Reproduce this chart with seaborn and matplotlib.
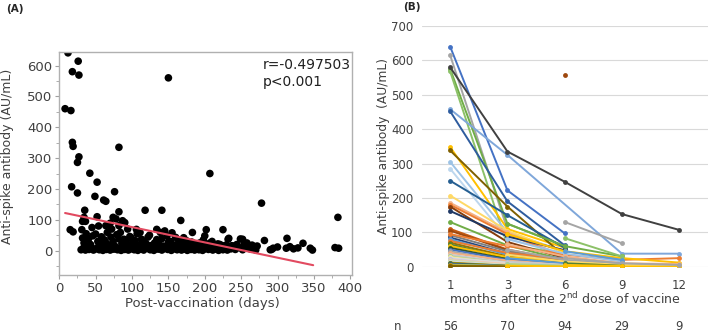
import numpy as np
import pandas as pd
import matplotlib
matplotlib.use("Agg")
import matplotlib.pyplot as plt
import seaborn as sns
from matplotlib.ticker import MultipleLocator

sns.set_style("ticks")
plt.rcParams['font.family'] = ['DejaVu Sans']

# ---------------- Panel A data ----------------
outlier_days = [12, 26, 18, 27, 150, 8, 16, 18, 19, 82, 27, 25, 42, 207, 52, 17, 76, 25, 49, 61,
                64, 278, 35, 118, 141, 82, 383, 15, 19, 167, 225, 202, 183, 232, 252]
outlier_vals = [641, 614, 580, 569, 560, 460, 454, 351, 338, 335, 304, 286, 251, 250, 222, 207, 191, 187, 176, 164,
                160, 154, 131, 131, 131, 126, 108, 68, 61, 98, 68, 68, 59, 37, 37]

upper_days = [31, 32, 34, 52, 54, 64, 70, 72, 74, 78, 82, 87, 90, 94, 106, 134, 36, 45]
upper_vals = [68, 95, 108, 110, 80, 81, 89, 70, 108, 103, 81, 97, 91, 70, 69, 69, 95, 75]

low_days = [30, 33, 36, 38, 41, 44, 47, 50, 53, 55,
            58, 60, 62, 65, 67, 70, 72, 75, 77, 80,
            83, 85, 88, 90, 93, 95, 98, 100, 103, 106,
            108, 111, 113, 116, 119, 122, 125, 128, 130, 133,
            136, 138, 141, 144, 146, 149, 152, 154, 157, 160,
            162, 165, 168, 170, 173, 176, 178, 181, 184, 186,
            189, 192, 195, 197, 200, 203, 205, 208, 211, 214,
            216, 219, 222, 225, 228, 231, 236, 242, 247, 252,
            258, 263, 270]
low_vals = [3, 8, 2, 12, 4, 9, 2, 6, 11, 3,
            7, 1, 10, 4, 13, 2, 8, 5, 11, 3,
            7, 1, 12, 4, 9, 2, 6, 14, 3, 8,
            1, 10, 5, 2, 12, 7, 3, 9, 1, 14,
            5, 10, 2, 7, 12, 4, 9, 1, 6, 13,
            3, 8, 2, 11, 5, 1, 9, 4, 12, 2,
            7, 3, 10, 1, 6, 13, 4, 8, 2, 10,
            5, 1, 7, 3, 9, 2, 6, 4, 10, 3,
            8, 5, 2]

mid_days = [32, 34, 37, 40, 43, 46, 50, 53, 56, 58,
            62, 64, 66, 69, 71, 74, 76, 79, 82, 84,
            86, 89, 92, 95, 97, 99, 101, 104, 107, 110,
            111, 113, 117, 120, 122, 124, 127, 131, 134, 137,
            139, 141, 143, 145, 148, 150, 153, 155, 158, 160,
            163, 165, 167, 169, 171, 173, 175, 177, 179, 182,
            185, 188, 191, 193, 196, 198, 200, 202, 205, 207,
            210, 213, 216, 218, 221, 224, 229, 233, 237, 240,
            244, 249, 254, 258, 265, 272]
mid_vals = [41, 25, 55, 37, 20, 48, 54, 30, 21, 45,
            35, 26, 59, 18, 44, 30, 16, 52, 38, 59,
            22, 37, 28, 18, 46, 41, 23, 33, 55, 19,
            59, 37, 27, 21, 44, 50, 17, 25, 36, 20,
            59, 39, 15, 64, 48, 28, 30, 58, 18, 43,
            22, 26, 35, 16, 42, 19, 32, 24, 20, 28,
            17, 22, 18, 25, 16, 35, 48, 20, 17, 25,
            30, 16, 15, 22, 20, 16, 18, 40, 16, 15,
            20, 38, 20, 25, 18, 15]

right_days = [282, 313, 335, 269, 294, 292, 312, 317, 345, 348, 379, 384, 290, 300, 322, 328]
right_vals = [33, 40, 24, 13, 8, 4, 8, 13, 8, 2, 10, 8, 3, 12, 6, 9]

fit_days = [8, 349]
fit_vals = [122, -47]
r_text = "r=-0.497503"
p_text = "p<0.001"

# ---------------- Panel B data ----------------
b_months = [1, 3, 6, 9, 12]
b_n = [56, 70, 94, 29, 9]
N = None
b_m1 = [640, 615, 575, 568, 458, 452, 348, 338, 305, 285,
        250, 207, 186, 180, 175, 162, 130, 110, 105, 92,
        85, 80, 75, 70, 65, 60, 55, 50, 45, 40,
        35, 30, 28, 25, 22, 20, 18, 15, 12, 10,
        8, 6, 4, 2, 95, N, N, N, N, N,
        N, N, N, N, N, N, N, N, N, N,
        N, N, 580]
b_m3 = [222, 108, 125, 62, 325, 190, 110, 175, 100, 82,
        150, 105, 100, 95, 72, 88, 62, 50, 48, 45,
        38, 35, 40, 30, 25, 28, 22, 20, 15, 18,
        12, 10, 8, 12, 6, 8, 5, 4, 3, 3,
        2, 2, 1, 1, 60, 125, 95, 80, 65, 50,
        35, 25, 15, 8, 3, N, N, N, N, N,
        N, N, 335]
b_m6 = [97, N, 60, 40, N, 62, 55, 30, 45, 35,
        55, 40, 30, 28, 25, 48, 20, 18, 15, 12,
        10, 25, 22, 12, 8, 15, 10, 8, 5, 6,
        5, 4, 3, 6, 2, 4, 2, 2, 1, 1,
        1, 0, 0, 0, 35, 60, 45, 38, 30, 20,
        15, 10, 5, 3, 1, 130, 558, 83, 45, 25,
        10, 5, 247]
b_m9 = [N, N, N, N, 38, N, N, N, N, N,
        N, N, N, N, N, N, N, N, N, N,
        N, N, N, N, N, N, N, N, N, N,
        N, N, N, N, N, N, N, N, N, N,
        N, N, N, N, 20, 30, 25, 15, 10, 8,
        5, N, N, N, N, 68, N, 30, 20, 10,
        3, 2, 153]
b_m12 = [N, N, N, N, 38, N, N, N, N, N,
         N, N, N, N, N, N, N, N, N, N,
         N, N, N, N, N, N, N, N, N, N,
         N, N, N, N, N, N, N, N, N, N,
         N, N, N, N, 25, N, 12, N, 8, 5,
         2, N, N, N, 0, N, N, N, N, 5,
         N, N, 107]

line_colors = ['#4472C4', '#A5A5A5', '#70AD47', '#8CC168', '#7FA7DA', '#2E5C9E', '#FFC000', '#7F6000', '#9DC3E6', '#BDD7EE',
               '#255E91', '#FFD966', '#F4B183', '#ED7D31', '#843C0C', '#1F3864', '#70AD47', '#C55A11', '#9E480E', '#7F7F7F',
               '#264478', '#5B9BD5', '#ED7D31', '#997300', '#548235', '#FFC000', '#375623', '#4472C4', '#A5A5A5', '#F4B183',
               '#C9C9C9', '#A9D18E', '#FFE699', '#DBDBDB', '#B4C7E7', '#F8CBAD', '#C5E0B4', '#D6DCE5', '#BF9000', '#538135',
               '#2F5597', '#A9D18E', '#BF9000', '#7F6000', '#ED7D31', '#70AD47', '#FFC000', '#9DC3E6', '#F4B183', '#A5A5A5',
               '#FFD966', '#5B9BD5', '#C9C9C9', '#A9D18E', '#FFC000', '#A5A5A5', '#9E480E', '#8CC168', '#5B9BD5', '#A5A5A5',
               '#548235', '#FFC000', '#404040']

# ---------------- Figure ----------------
fig = plt.figure(figsize=(7.09, 3.33), dpi=100)

# Panel A
ax1 = fig.add_axes([0.0836, 0.174, 0.4125, 0.671])
a_days = outlier_days + upper_days + low_days + mid_days + right_days
a_vals = outlier_vals + upper_vals + low_vals + mid_vals + right_vals
sns.scatterplot(x=a_days, y=a_vals, ax=ax1, color='black', s=30, edgecolor='none', linewidth=0, zorder=2)
sns.lineplot(x=fit_days, y=fit_vals, ax=ax1, color='#E24A60', linewidth=1.5, zorder=3)
ax1.set_xlim(0, 402)
ax1.set_ylim(-79, 645)
ax1.xaxis.set_major_locator(MultipleLocator(50))
ax1.xaxis.set_minor_locator(MultipleLocator(25))
ax1.set_yticks(list(range(0, 601, 100)))
ax1.yaxis.set_minor_locator(MultipleLocator(50))
for sp in ax1.spines.values():
    sp.set_visible(True)
    sp.set_color('#b0b0b0')
    sp.set_linewidth(1.0)
ax1.tick_params(which='major', direction='out', length=3, width=0.8, color='#a0a0a0',
                labelsize=9.5, labelcolor='#404040', pad=2)
ax1.tick_params(which='minor', direction='out', length=2, width=0.6, color='#a0a0a0')
ax1.set_xlabel('Post-vaccination (days)', fontsize=9.5, color='#404040')
ax1.set_ylabel('Anti-spike antibody (AU/mL)', fontsize=9, color='#404040')
ax1.xaxis.set_label_coords(0.49, -0.1)
ax1.yaxis.set_label_coords(-0.155, 0.53)
ax1.text(280, 602, r_text, fontsize=10, va='center', ha='left', color='#202020')
ax1.text(280, 547, p_text, fontsize=10, va='center', ha='left', color='#202020')
fig.text(6 / 709, 1 - 9 / 333, '(A)', fontsize=7.5, fontweight='bold', va='center', ha='left')

# Panel B
ax2 = fig.add_axes([0.5945, 0.199, 0.404, 0.723])
rows = []
cols = [b_m1, b_m3, b_m6, b_m9, b_m12]
for i in range(len(b_m1)):
    for j, col in enumerate(cols):
        if col[i] is not None:
            rows.append({'subject': i, 'pos': j, 'val': col[i]})
df = pd.DataFrame(rows)
palette = {i: line_colors[i] for i in range(len(b_m1))}
sns.lineplot(data=df, x='pos', y='val', hue='subject', hue_order=list(range(len(b_m1))),
             palette=palette, estimator=None, marker='o', markersize=3.5, markeredgewidth=0,
             linewidth=1.4, legend=False, ax=ax2, zorder=3)
ax2.set_xlim(-0.5, 4.5)
ax2.set_ylim(0, 700)
ax2.set_xticks(list(range(len(b_months))))
ax2.set_xticklabels([str(m) for m in b_months])
ax2.set_yticks(list(range(0, 701, 100)))
ax2.yaxis.grid(True, color='#d9d9d9', linewidth=0.8)
ax2.set_axisbelow(True)
for sp in ax2.spines.values():
    sp.set_visible(False)
ax2.tick_params(axis='both', length=0, labelsize=8.5, labelcolor='#404040')
ax2.tick_params(axis='x', pad=9)
ax2.tick_params(axis='y', pad=6)
ax2.set_xlabel('months after the 2$^{\\mathregular{nd}}$ dose of vaccine', fontsize=9, color='#404040')
ax2.xaxis.set_label_coords(0.5, -0.1)
ax2.set_ylabel('Anti-spike antibody  (AU/mL)', fontsize=8.8, color='#404040')
ax2.yaxis.set_label_coords(-0.11, 0.5)
tr = ax2.get_xaxis_transform()
ax2.text(-0.082, -0.25, 'n', transform=ax2.transAxes, fontsize=8.5, color='#404040', ha='center', va='center')
for j, n in enumerate(b_n):
    ax2.text(j, -0.25, str(n), transform=tr, fontsize=8.5, color='#404040', ha='center', va='center')
fig.text(403 / 709, 1 - 7 / 333, '(B)', fontsize=7.5, fontweight='bold', va='center', ha='left')

fig.savefig('out.png', dpi=100)
